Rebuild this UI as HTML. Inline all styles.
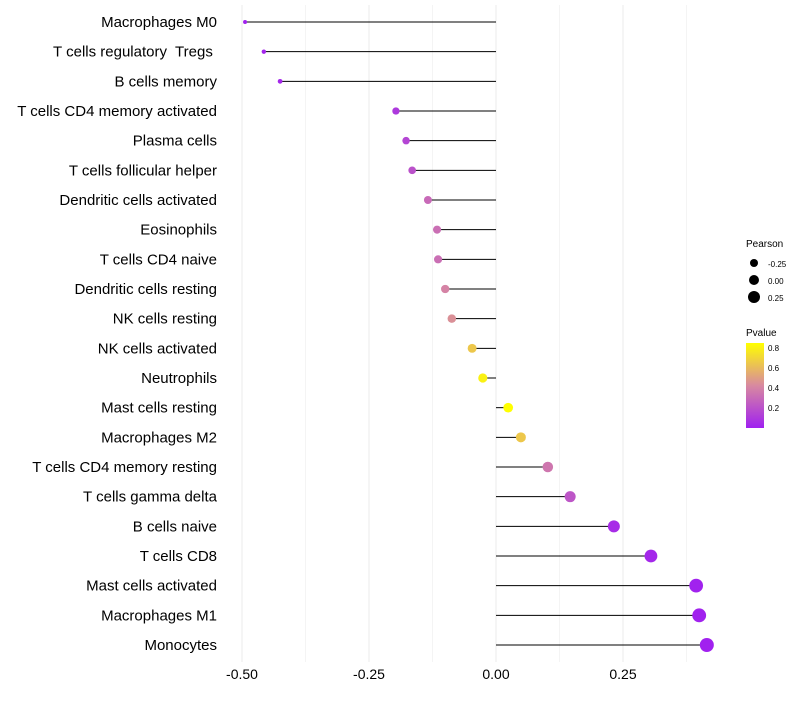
<!DOCTYPE html>
<html><head><meta charset="utf-8"><style>
body{margin:0;background:#fff;font-family:"Liberation Sans",sans-serif;}
svg text{font-family:"Liberation Sans",sans-serif;}
</style></head><body>
<svg id="chart" width="800" height="700" xmlns="http://www.w3.org/2000/svg">
<defs><linearGradient id="pg" x1="0" y1="1" x2="0" y2="0"><stop offset="0" stop-color="#a020f0"/><stop offset="0.5" stop-color="#d889a0"/><stop offset="1" stop-color="#ffff00"/></linearGradient></defs>
<g id="grid"></g>
<g id="marks"></g>
<g id="ylabels"></g>
<g id="xlabels"></g>
<g>
<text x="746" y="247" font-size="10">Pearson</text>
<circle cx="754" cy="263" r="4" fill="#000"/><text x="768" y="267" font-size="8">-0.25</text>
<circle cx="754" cy="280" r="5" fill="#000"/><text x="768" y="284" font-size="8">0.00</text>
<circle cx="754" cy="297" r="6" fill="#000"/><text x="768" y="301" font-size="8">0.25</text>
</g>
<g>
<text x="746" y="336" font-size="10">Pvalue</text>
<rect x="746" y="343" width="18" height="85" fill="url(#pg)"/>
<text x="768" y="351" font-size="8">0.8</text>
<text x="768" y="371" font-size="8">0.6</text>
<text x="768" y="391" font-size="8">0.4</text>
<text x="768" y="411" font-size="8">0.2</text>
</g>
</svg>
<script>
const cells=["Macrophages M0","T cells regulatory\u00a0 Tregs\u00a0","B cells memory","T cells CD4 memory activated","Plasma cells","T cells follicular helper","Dendritic cells activated","Eosinophils","T cells CD4 naive","Dendritic cells resting","NK cells resting","NK cells activated","Neutrophils","Mast cells resting","Macrophages M2","T cells CD4 memory resting","T cells gamma delta","B cells naive","T cells CD8","Mast cells activated","Macrophages M1","Monocytes"];
const pearson=[-0.494,-0.457,-0.425,-0.197,-0.177,-0.165,-0.134,-0.116,-0.114,-0.100,-0.087,-0.047,-0.026,0.024,0.049,0.102,0.146,0.232,0.305,0.394,0.400,0.415];
const pvalue=[0.01,0.02,0.03,0.1,0.15,0.2,0.3,0.32,0.32,0.4,0.45,0.65,0.8,0.85,0.65,0.35,0.22,0.05,0.03,0.01,0.01,0.005];
const xTicks=[-0.5,-0.25,0,0.25];
const xTickLabels=["-0.50","-0.25","0.00","0.25"];
const minorTicks=[-0.375,-0.125,0.125,0.375];
const NS="http://www.w3.org/2000/svg";
const x=v=>496+v*508;
const y=i=>22+i*(623/(cells.length-1));
const pmax=0.85;
const stops=[[160,32,240],[216,137,160],[255,255,0]];
function col(p){let t=Math.max(0,Math.min(1,p/pmax))*2;let k=t<1?0:1;let f=t-k;const a=stops[k],b=stops[k+1];return `rgb(${a.map((c,j)=>Math.round(c+(b[j]-c)*f)).join(',')})`;}
const pmin=Math.min(...pearson),pmx=Math.max(...pearson);
const rad=v=>2+5*(v-pmin)/(pmx-pmin);
function mk(tag,attrs,parent){const e=document.createElementNS(NS,tag);for(const k in attrs)e.setAttribute(k,attrs[k]);parent.appendChild(e);return e;}
const grid=document.getElementById('grid'),marks=document.getElementById('marks'),yl=document.getElementById('ylabels'),xl=document.getElementById('xlabels');
minorTicks.forEach(t=>{const l=mk('line',{x1:x(t),x2:x(t),y1:5,y2:662,stroke:'#f2f2f2','stroke-width':0.8},grid);

});
xTicks.forEach((t,i)=>{const l=mk('line',{x1:x(t),x2:x(t),y1:5,y2:662,stroke:'#ebebeb','stroke-width':1},grid);


const tx=mk('text',{x:x(t),y:679,'font-size':14,'text-anchor':'middle',fill:'#000'},xl);tx.textContent=xTickLabels[i];

});
cells.forEach((c,i)=>{
const seg=mk('line',{x1:x(0),x2:x(pearson[i]),y1:y(i),y2:y(i),stroke:'#000','stroke-width':1},marks);


const d=mk('circle',{cx:x(pearson[i]),cy:y(i),r:rad(pearson[i]),fill:col(pvalue[i])},marks);


const t=mk('text',{x:217,y:y(i)+5,'font-size':15,'text-anchor':'end',fill:'#000'},yl);t.textContent=c;


});
</script>
</body></html>
